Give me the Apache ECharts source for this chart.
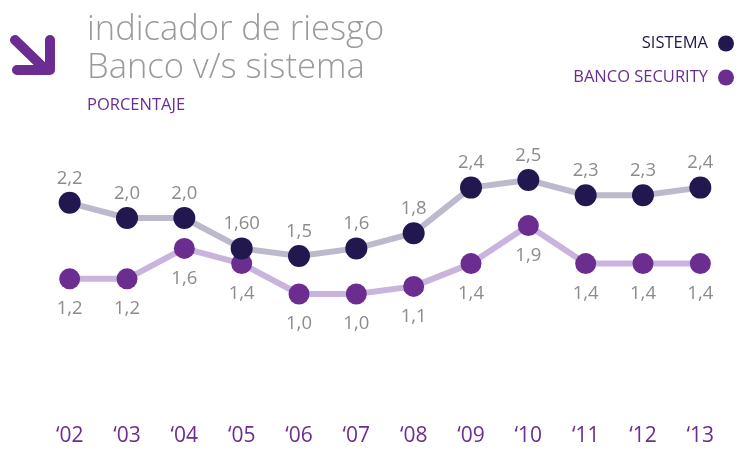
<!DOCTYPE html>
<html>
<head>
<meta charset="utf-8">
<script src="https://cdn.jsdelivr.net/npm/echarts@6/dist/echarts.min.js"></script>
<style>
html,body{margin:0;padding:0;background:#fff;}
#c{width:740px;height:449px;}
</style>
</head>
<body>
<div id="c"></div>
<script>
var years = ["\u201802","\u201803","\u201804","\u201805","\u201806","\u201807","\u201808","\u201809","\u201810","\u201811","\u201812","\u201813"];
var sistema = [2.2, 2.0, 2.0, 1.6, 1.5, 1.6, 1.8, 2.4, 2.5, 2.3, 2.3, 2.4];
var sistemaLabels = ['2,2','2,0','2,0','1,60','1,5','1,6','1,8','2,4','2,5','2,3','2,3','2,4'];
var banco = [1.2, 1.2, 1.6, 1.4, 1.0, 1.0, 1.1, 1.4, 1.9, 1.4, 1.4, 1.4];
var bancoLabels = ['1,2','1,2','1,6','1,4','1,0','1,0','1,1','1,4','1,9','1,4','1,4','1,4'];

var FONT = '"Open Sans", "Noto Sans", sans-serif';
var chart = echarts.init(document.getElementById('c'), null, {renderer: 'canvas'});
chart.setOption({
  backgroundColor: '#ffffff',
  animation: false,
  textStyle: {fontFamily: FONT},
  title: [
    {text: 'indicador de riesgo\nBanco v/s sistema', left: 82, top: 6,
     textStyle: {fontFamily: FONT, fontWeight: 300, fontSize: 34.5, lineHeight: 38, color: '#9a9a9a'}},
    {text: 'PORCENTAJE', left: 82, top: 92,
     textStyle: {fontFamily: FONT, fontWeight: 'normal', fontSize: 16.5, color: '#6b2d90'}}
  ],
  graphic: [
    {type: 'polyline', shape: {points: [[15, 40], [46, 70]]},
     style: {stroke: '#6b2d91', lineWidth: 10, lineCap: 'round', fill: null}},
    {type: 'polyline', shape: {points: [[50, 40], [50, 70], [17, 70]]},
     style: {stroke: '#6b2d91', lineWidth: 10, lineCap: 'round', lineJoin: 'round', fill: null}}
  ],
  legend: {
    orient: 'vertical', right: 1, top: 30, align: 'right',
    icon: 'circle', itemWidth: 16, itemHeight: 16, itemGap: 17,
    textStyle: {fontFamily: FONT, fontSize: 16.5, padding: [0, 5, 0, 0]},
    data: [
      {name: 'SISTEMA', textStyle: {color: '#22174f'}},
      {name: 'BANCO SECURITY', textStyle: {color: '#6b2d90'}}
    ]
  },
  grid: {left: 41, right: 11, top: 142, bottom: 79},
  xAxis: {
    type: 'category', data: years, boundaryGap: true,
    axisLine: {show: false}, axisTick: {show: false}, splitLine: {show: false},
    axisLabel: {color: '#6b2d90', fontSize: 21, margin: 56, fontFamily: FONT}
  },
  yAxis: {type: 'value', min: 0, max: 3, show: false, splitLine: {show: false}},
  series: [
    {
      name: 'BANCO SECURITY', type: 'line', data: banco, z: 2,
      symbol: 'circle', symbolSize: 21,
      lineStyle: {color: '#c9b4dd', width: 6},
      itemStyle: {color: '#6b2d90'},
      label: {show: true, position: 'bottom', distance: 10, color: '#8c8c8c', fontSize: 18.5,
        formatter: function (p) { return bancoLabels[p.dataIndex]; }}
    },
    {
      name: 'SISTEMA', type: 'line', data: sistema, z: 3,
      symbol: 'circle', symbolSize: 22,
      lineStyle: {color: '#bdb9cc', width: 6},
      itemStyle: {color: '#22174f'},
      label: {show: true, position: 'top', distance: 4, color: '#8c8c8c', fontSize: 18.5,
        formatter: function (p) { return sistemaLabels[p.dataIndex]; }}
    }
  ]
});
</script>
</body>
</html>
